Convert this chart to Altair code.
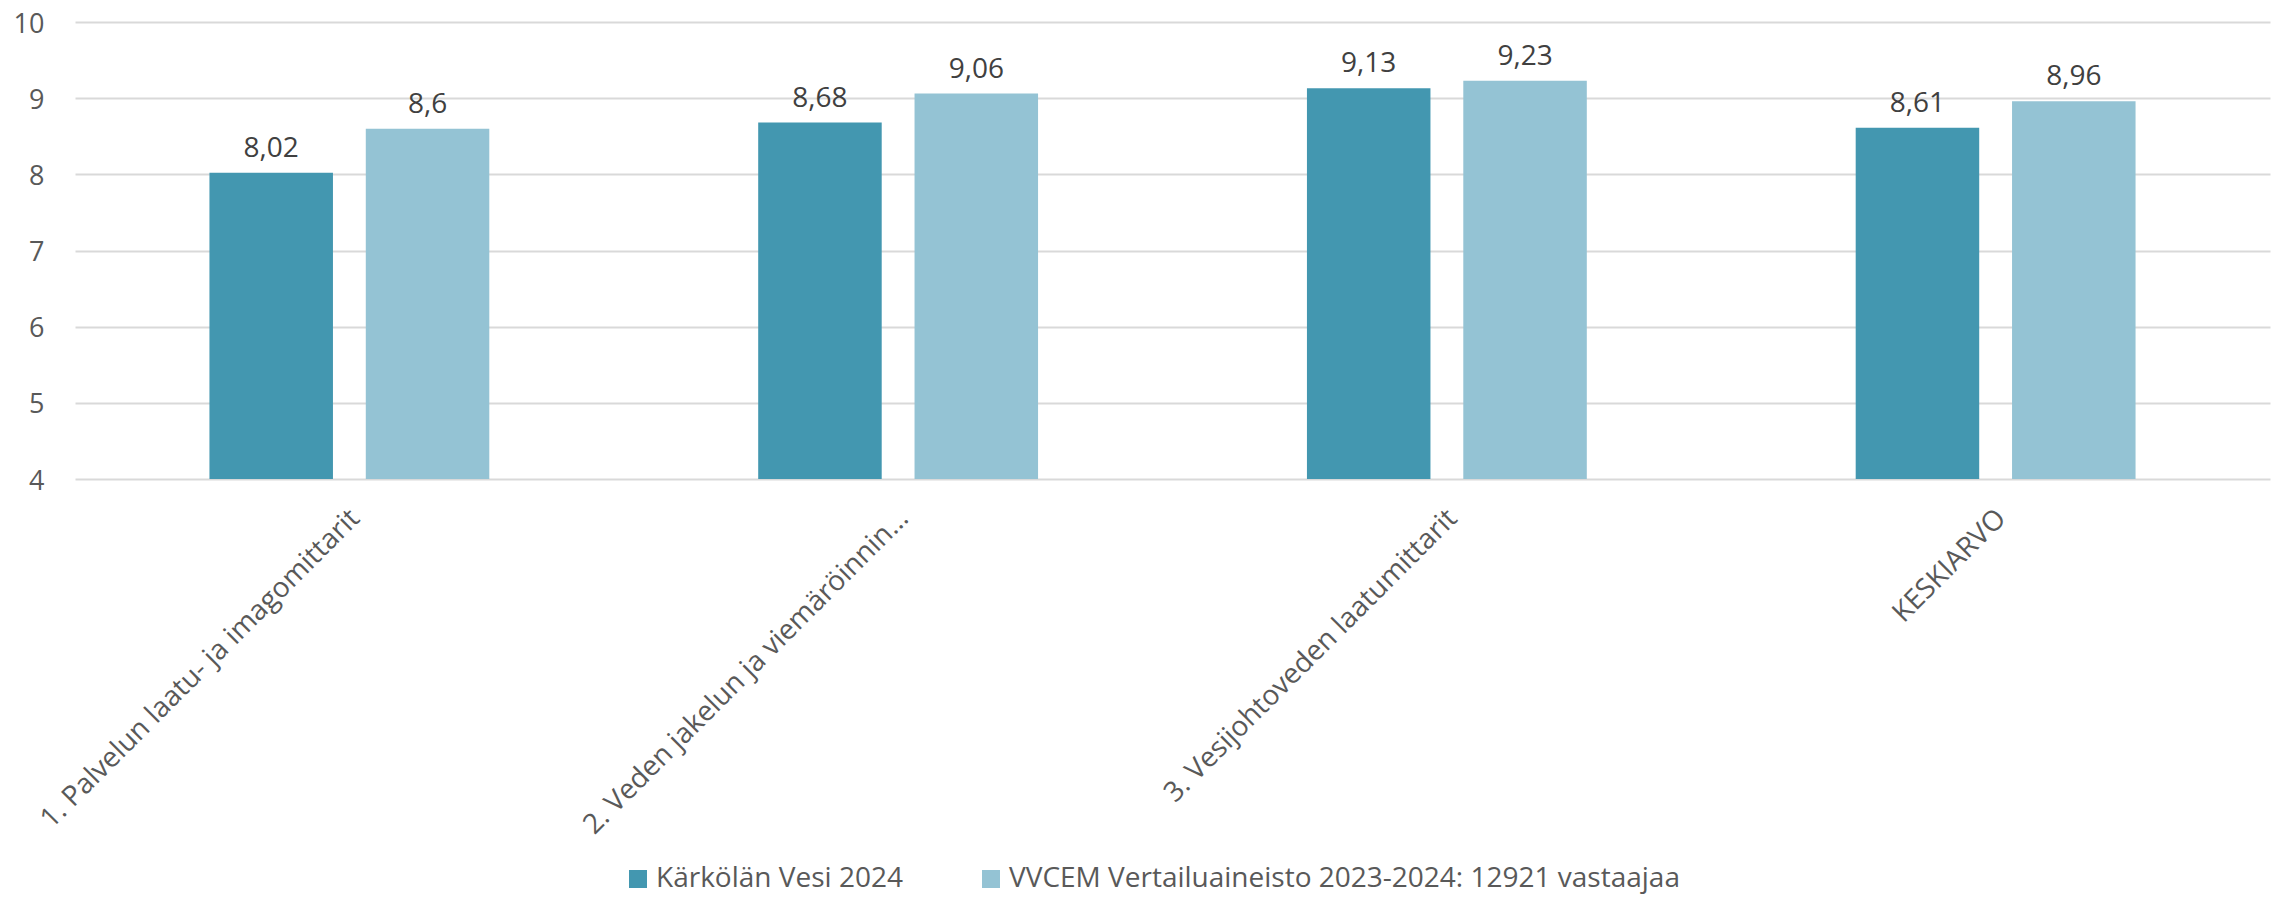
import altair as alt
import pandas as pd

categories = [
    "1. Palvelun laatu- ja imagomittarit",
    "2. Veden jakelun ja viemäröinnin…",
    "3. Vesijohtoveden laatumittarit",
    "KESKIARVO",
]
series = ["Kärkölän Vesi 2024", "VVCEM Vertailuaineisto 2023-2024: 12921 vastaajaa"]
karkola = [8.02, 8.68, 9.13, 8.61]
vvcem = [8.6, 9.06, 9.23, 8.96]
colors = ["#4397b0", "#94c3d4"]
y_ticks = [4, 5, 6, 7, 8, 9, 10]

rows = []
for s, vals in zip(series, [karkola, vvcem]):
    for c, v in zip(categories, vals):
        rows.append({"category": c, "series": s, "value": v,
                     "label": str(v).replace(".", ",")})
df = pd.DataFrame(rows)

FONT = "Open Sans"

base = alt.Chart(df).encode(
    x=alt.X(
        "category:N",
        sort=categories,
        scale=alt.Scale(paddingInner=0.49, paddingOuter=0.245),
        axis=alt.Axis(
            title=None, labelAngle=-45, labelAlign="right", labelBaseline="middle",
            labelPadding=35, labelOffset=6, ticks=False, domain=False,
            labelFont=FONT, labelFontSize=28, labelColor="#595959", labelLimit=1000,
        ),
    ),
    xOffset=alt.XOffset("series:N", sort=series, scale=alt.Scale(paddingInner=0.21)),
)

bars = base.mark_bar().encode(
    y=alt.Y(
        "value:Q",
        scale=alt.Scale(domain=[4, 10], nice=False, zero=False),
        axis=alt.Axis(
            title=None, values=y_ticks, format="d", grid=True, gridColor="#d9d9d9",
            gridWidth=2, domain=False, ticks=False, labelPadding=31, labelFont=FONT,
            labelFontSize=27, labelColor="#595959",
            labelBaseline="alphabetic", labelOffset=10,
        ),
    ),
    y2=alt.datum(4),
    color=alt.Color(
        "series:N",
        sort=series,
        scale=alt.Scale(domain=series, range=colors),
        legend=alt.Legend(
            title=None, orient="none", legendX=549, legendY=843, direction="horizontal",
            symbolType="square", symbolSize=324, symbolStrokeWidth=0,
            labelFont=FONT, labelFontSize=28, labelColor="#595959",
            labelOffset=4, columnPadding=74, labelLimit=1500,
        ),
    ),
)

text = base.mark_text(
    baseline="alphabetic", dy=-16, font=FONT, fontSize=28, color="#404040"
).encode(
    y=alt.Y("value:Q"),
    text="label:N",
)

chart = (
    alt.layer(bars, text)
    .properties(
        width=2195,
        height=457,
        padding={"left": 67, "top": 14, "right": 2, "bottom": 418},
        autosize=alt.AutoSizeParams(type="none"),
    )
    .configure_view(stroke=None)
)

chart.save("out.html", embed_options={"renderer": "svg", "actions": False})
